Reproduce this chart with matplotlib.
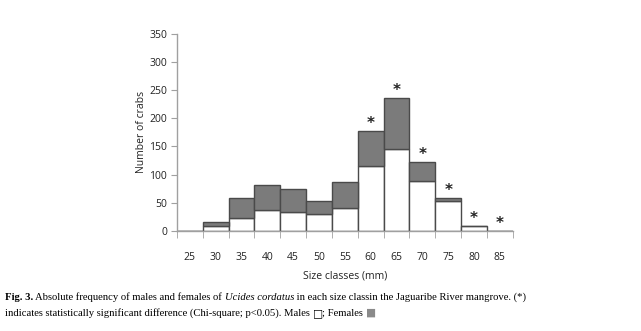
import numpy as np
import matplotlib
matplotlib.use("Agg")
import matplotlib.pyplot as plt

# size classes (mm) and counts
classes = ["25", "30", "35", "40", "45", "50", "55", "60", "65", "70", "75", "80", "85"]
males = [0, 8, 23, 37, 33, 29, 40, 116, 145, 88, 52, 8, 0]
females = [0, 7, 36, 45, 42, 23, 46, 61, 91, 34, 6, 0, 0]
significant = [False, False, False, False, False, False, False, True, True, True, True, True, True]
yticks = [0, 50, 100, 150, 200, 250, 300, 350]

fig = plt.figure(figsize=(6.41, 3.31), dpi=100)
ax = fig.add_axes([0.276, 0.303, 0.524, 0.594])

x = np.arange(len(classes))
ax.bar(x, males, width=1.0, color="white", edgecolor="#4a4a4a", linewidth=1.0)
ax.bar(x, females, width=1.0, bottom=males, color="#7b7b7b", edgecolor="#4a4a4a", linewidth=1.0)

totals = np.array(males) + np.array(females)
for xi, t, s in zip(x, totals, significant):
    if s:
        ax.text(xi, t + 13, "*", ha="center", va="center", fontsize=11, color="#222222",
                family="DejaVu Sans", weight="bold")

ax.set_xlim(-0.5, len(classes) - 0.5)
ax.set_ylim(0, 350)
ax.set_yticks(yticks)

# category axis: labels between tick marks
ax.set_xticks(x)
ax.set_xticklabels(classes)
ax.set_xticks(np.arange(-0.5, len(classes), 1.0), minor=True)
ax.tick_params(axis="x", which="major", length=0, pad=15, labelsize=7.5, labelcolor="#222222")
ax.tick_params(axis="x", which="minor", length=5, color="#a0a0a0", direction="out")
ax.tick_params(axis="y", length=4, color="#a0a0a0", labelsize=7.5, labelcolor="#222222", pad=3)
for lab in ax.get_xticklabels() + ax.get_yticklabels():
    lab.set_family("Open Sans")

for s in ["top", "right"]:
    ax.spines[s].set_visible(False)
for s in ["left", "bottom"]:
    ax.spines[s].set_color("#a0a0a0")
    ax.spines[s].set_linewidth(1.0)

ax.set_xlabel("Size classes (mm)", fontsize=7.5, family="Open Sans", color="#222222", labelpad=6)
ax.set_ylabel("Number of crabs", fontsize=7.5, family="Open Sans", color="#222222", labelpad=2)

# caption, built piece by piece
fig.canvas.draw()
renderer = fig.canvas.get_renderer()
W = fig.bbox.width
cap_size = 7.7
serif = ["Liberation Serif", "DejaVu Serif"]


def line(pieces, x0, y):
    xpix = x0
    for txt, kw in pieces:
        t = fig.text(xpix / W, y, txt, fontsize=cap_size, va="baseline", ha="left",
                     family=kw.get("family", serif), weight=kw.get("weight", "normal"),
                     style=kw.get("style", "normal"), color=kw.get("color", "black"))
        xpix = t.get_window_extent(renderer).x1


line([("Fig. 3.", {"weight": "bold"}),
      (" Absolute frequency of males and females of ", {}),
      ("Ucides cordatus", {"style": "italic"}),
      (" in each size classin the Jaguaribe River mangrove. (*)", {})],
     5, 1 - 300 / 331)
line([("indicates statistically significant difference (Chi-square; p<0.05). Males ", {}),
      ("\u25a1", {"family": ["DejaVu Sans"]}),
      ("; Females ", {}),
      ("\u25a0", {"family": ["DejaVu Sans"], "color": "#8a8a8a"})],
     5, 1 - 316 / 331)

fig.savefig("out.png", dpi=100)
